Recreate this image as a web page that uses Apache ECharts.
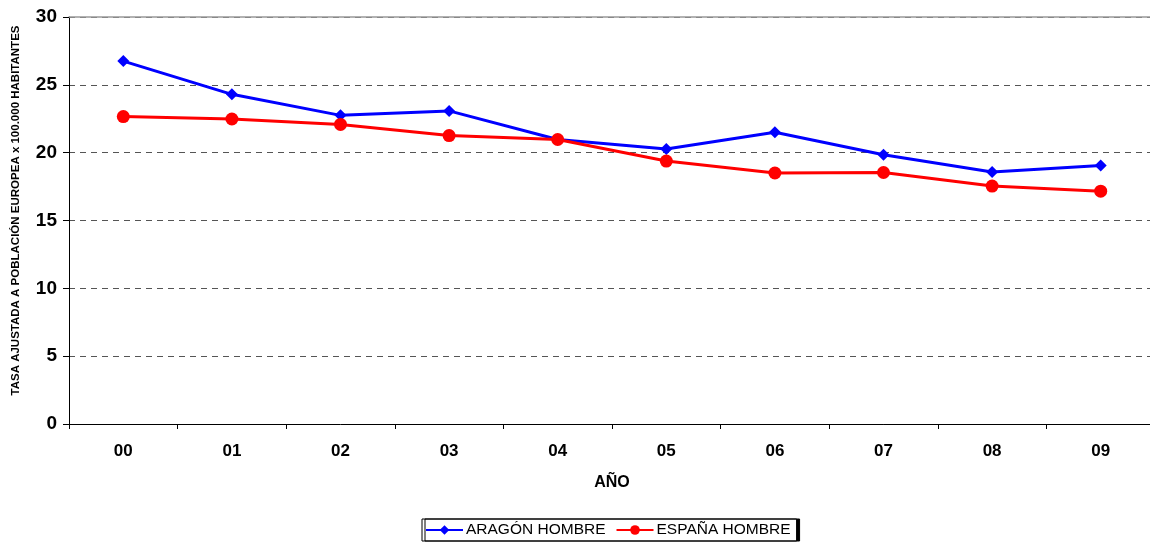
<!DOCTYPE html>
<html><head><meta charset="utf-8">
<script src="https://cdn.jsdelivr.net/npm/echarts@6/dist/echarts.min.js"></script>
<style>html,body{margin:0;padding:0;background:#fff;overflow:hidden}#c{width:1156px;height:542px}</style>
</head><body><div id="c"></div>
<script>
var categories = ['00','01','02','03','04','05','06','07','08','09'];
var aragon = [26.75, 24.3, 22.75, 23.08, 20.97, 20.27, 21.5, 19.84, 18.57, 19.05];
var espana = [22.66, 22.48, 22.08, 21.26, 20.97, 19.38, 18.5, 18.54, 17.54, 17.16];
var yTicks = [0, 5, 10, 15, 20, 25, 30];

var font = 'Liberation Sans, Arial, sans-serif';
var chart = echarts.init(document.getElementById('c'), null, {renderer: 'canvas'});
chart.setOption({
  animation: false,
  backgroundColor: '#fff',
  grid: {left: 69, top: 17, right: 1, height: 407, containLabel: false, outerBoundsMode: 'none'},
  xAxis: [{
    type: 'category', data: categories, boundaryGap: true, position: 'bottom',
    axisLine: {lineStyle: {color: '#000', width: 1}},
    axisTick: {show: true, alignWithLabel: false, length: 5, lineStyle: {color: '#000'}},
    axisLabel: {fontFamily: font, fontWeight: 'bold', fontSize: 17, color: '#000', margin: 19},
    name: 'AÑO', nameLocation: 'middle', nameGap: 51,
    nameTextStyle: {fontFamily: font, fontWeight: 'bold', fontSize: 16, color: '#000'}
  }, {
    type: 'category', data: categories, position: 'top',
    axisLine: {show: true, lineStyle: {color: '#999', width: 1.5}},
    axisTick: {show: false}, axisLabel: {show: false}
  }],
  yAxis: {
    type: 'value', min: yTicks[0], max: yTicks[yTicks.length - 1], interval: 5,
    axisLine: {show: true, lineStyle: {color: '#000', width: 1}},
    axisTick: {show: true, inside: false, length: 6, lineStyle: {color: '#000'}},
    axisLabel: {fontFamily: font, fontWeight: 'bold', fontSize: 19, color: '#000', margin: 12},
    splitLine: {show: true, lineStyle: {color: '#555', type: [6, 5], width: 1}},
    name: 'TASA AJUSTADA A POBLACIÓN EUROPEA x 100.000 HABITANTES',
    nameLocation: 'middle', nameGap: 47, nameRotate: 90,
    nameTextStyle: {fontFamily: font, fontWeight: 'bold', fontSize: 11.5, color: '#000', padding: [0, 0, 0, 20]}
  },
  legend: {
    bottom: 1, left: 422,
    itemWidth: 37, itemHeight: 12, itemGap: 10,
    padding: [3, 6, 3, 3],
    borderColor: '#000', borderWidth: 1,
    shadowColor: '#000', shadowOffsetX: 3, shadowOffsetY: 0, shadowBlur: 0,
    backgroundColor: '#fff',
    textStyle: {fontFamily: font, fontSize: 15.5, color: '#000', padding: [0, 0, 0, -2]},
    data: ['ARAGÓN HOMBRE', 'ESPAÑA HOMBRE']
  },
  series: [{
    name: 'ARAGÓN HOMBRE', type: 'line', data: aragon,
    symbol: 'diamond', symbolSize: 12,
    lineStyle: {color: '#0000FF', width: 3}, itemStyle: {color: '#0000FF'}
  }, {
    name: 'ESPAÑA HOMBRE', type: 'line', data: espana,
    symbol: 'circle', symbolSize: 13,
    lineStyle: {color: '#FF0000', width: 3}, itemStyle: {color: '#FF0000'}
  }]
});
</script></body></html>
